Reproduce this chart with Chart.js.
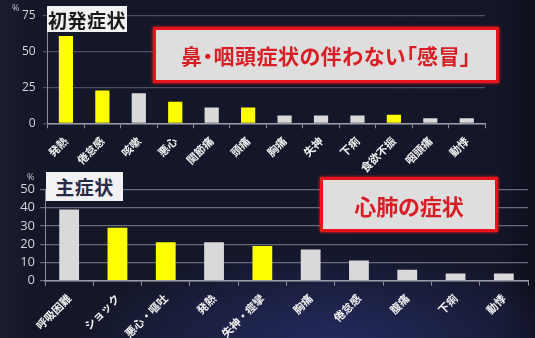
<!DOCTYPE html>
<html><head><meta charset="utf-8">
<script src="https://cdn.jsdelivr.net/npm/chart.js@4"></script>
<style>
html,body{margin:0;padding:0;}
body{width:535px;height:338px;overflow:hidden;position:relative;
background:
 radial-gradient(ellipse 260px 90px at 62% 100%, rgba(40,48,110,0.75), rgba(20,24,50,0) 100%),
 linear-gradient(to right,#1b1e2f 0px,#141727 30px,#14172a 60%,#131628 93%,#0d0f1c 100%);
font-family:"Noto Sans CJK JP",sans-serif;}
canvas{position:absolute;left:0;}
#c1{top:0;}#c2{top:165px;}
.pct{position:absolute;color:#c8c8d0;font:9px "Open Sans",sans-serif;}
.ttl{position:absolute;background:#f2f2f4;font-weight:bold;font-size:19px;line-height:1;display:flex;align-items:center;justify-content:center;letter-spacing:0.5px;}
.call{position:absolute;background:#dedede;border:3px solid #e8141c;box-sizing:border-box;color:#d81e24;font-weight:bold;display:flex;align-items:center;justify-content:center;box-shadow:0 0 3px #ff2020;font-feature-settings:"palt";}
</style></head><body>
<canvas id="c1" width="535" height="180"></canvas>
<canvas id="c2" width="535" height="173"></canvas>
<div class="pct" style="left:12px;top:1px;">%</div>
<div class="pct" style="left:27px;top:170px;">%</div>
<div class="ttl" style="left:47px;top:6px;width:80px;height:26px;color:#1a1a1a;">初発症状</div>
<div class="ttl" style="left:46px;top:172px;width:77px;height:29px;color:#2a2a48;">主症状</div>
<div class="call" style="left:153px;top:27px;width:346px;height:56px;font-size:21px;letter-spacing:0.5px;">鼻・咽頭症状の伴わない「感冒」</div>
<div class="call" style="left:320px;top:177px;width:178px;height:55px;font-size:22px;">心肺の症状</div>
<script>
const initialLabels = ["発熱","倦怠感","咳嗽","悪心","関節痛","頭痛","胸痛","失神","下痢","食欲不振","咽頭痛","動悸"];
const initialValues = [61,23,21,15,11,11,5.5,5.5,5.5,6,3.5,3.5];
const initialHighlight = [true,true,false,true,false,true,false,false,false,true,false,false];
const initialTicks = [0,25,50,75];

const mainLabels = ["呼吸困難","ショック","悪心・嘔吐","発熱","失神・痙攣","胸痛","倦怠感","腹痛","下痢","動悸"];
const mainValues = [39,29,21,21,19,17,11,6,4,4];
const mainHighlight = [false,true,true,false,true,false,false,false,false,false];
const mainTicks = [0,10,20,30,40,50];

const YELLOW = "#ffff00", GRAY = "#d9d9d9";

function makeChart(id, labels, values, hl, ticks, o){
  return new Chart(document.getElementById(id), {
    type:"bar",
    data:{labels:labels,datasets:[{data:values,backgroundColor:hl.map(h=>h?YELLOW:GRAY),borderWidth:0,
      categoryPercentage:1,barPercentage:o.bp}]},
    options:{
      responsive:false,animation:false,
      plugins:{legend:{display:false},tooltip:{enabled:false}},
      layout:{padding:{top:o.top,right:o.right,left:0,bottom:0}},
      scales:{
        x:{
          grid:{display:true,drawOnChartArea:false,color:"#8c8e9c",tickLength:5,offset:true},
          border:{display:true,color:"#9a9ca8",width:1.5},
          ticks:{color:"#f2f2f2",font:{family:"Noto Sans CJK JP",size:11,weight:"bold"},minRotation:45,maxRotation:45,padding:o.lpad,autoSkip:false},
          afterFit:s=>{s.height=o.xh;s.paddingLeft=0;s.paddingRight=0;}
        },
        y:{
          min:0,max:ticks[ticks.length-1],
          afterBuildTicks:s=>{s.ticks=ticks.map(v=>({value:v}));},
          grid:{color:o.gc,tickLength:5,lineWidth:1.2},
          border:{display:true,color:"#8a8c99"},
          ticks:{color:"#d4d4da",font:{family:"Open Sans",size:o.tf},padding:o.tp,autoSkip:false},
          afterFit:s=>{s.width=o.yw;s.paddingTop=0;s.paddingBottom=0;}
        }
      }
    }
  });
}
makeChart("c1",initialLabels,initialValues,initialHighlight,initialTicks,
  {bp:0.39,top:16,right:50,xh:56.7,yw:47.7,gc:"#4c4f62",tf:12,tp:7,lpad:6});
makeChart("c2",mainLabels,mainValues,mainHighlight,mainTicks,
  {bp:0.41,top:24.3,right:7,xh:57.3,yw:45,gc:"#686b7e",tf:13,tp:5,lpad:6});
</script>
</body></html>
